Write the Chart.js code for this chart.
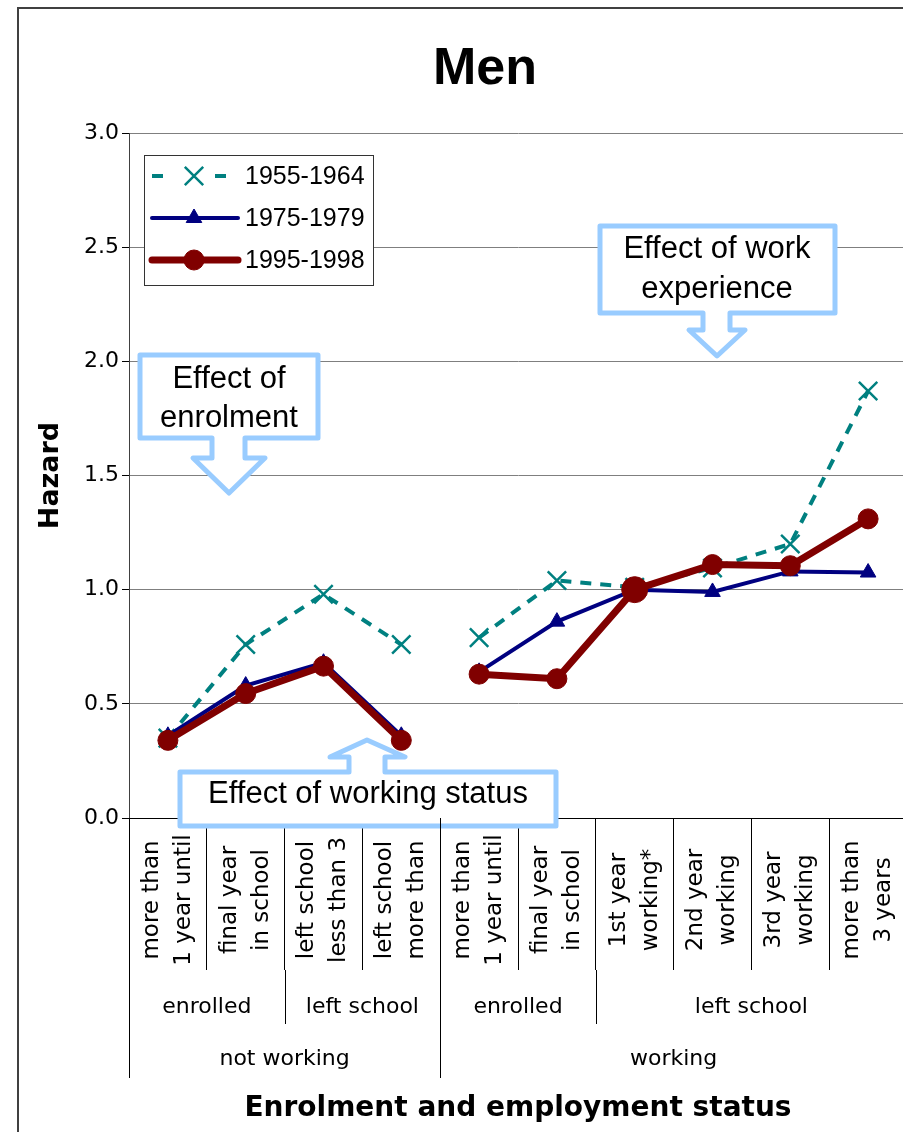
<!DOCTYPE html>
<html>
<head>
<meta charset="utf-8">
<script src="https://cdn.jsdelivr.net/npm/chart.js@4.4.0/dist/chart.umd.min.js"></script>
<style>
html, body { margin: 0; padding: 0; background: #fff; overflow: hidden; }
#wrap { width: 903px; height: 1132px; overflow: hidden; position: relative; }
#menChart { position: absolute; left: 0; top: 0; }
</style>
</head>
<body>
<div id="wrap"><canvas id="menChart" width="970" height="1132"></canvas></div>
<script>
// categories (two lines each, shown rotated under the axis)
var categories = [
    ["more than", "1 year until"],
    ["final year", "in school"],
    ["left school", "less than 3"],
    ["left school", "more than"],
    ["more than", "1 year until"],
    ["final year", "in school"],
    ["1st year", "working*"],
    ["2nd year", "working"],
    ["3rd year", "working"],
    ["more than", "3 years"]
];
var schoolLabels = ["enrolled", "left school", "enrolled", "left school"];
var schoolSpans = [[0, 1], [2, 3], [4, 5], [6, 9]];
var workLabels = ["not working", "working"];
var workSpans = [[0, 3], [4, 9]];

var seriesNames = ["1955-1964", "1975-1979", "1995-1998"];
var hazard1955 = [0.35, 0.76, 0.98, 0.76, 0.79, 1.04, 1.01, 1.095, 1.20, 1.87];
var hazard1975 = [0.36, 0.58, 0.68, 0.36, 0.64, 0.86, 1.00, 0.99, 1.08, 1.075];
var hazard1995 = [0.34, 0.545, 0.665, 0.34, 0.63, 0.61, 1.00, 1.11, 1.105, 1.31];

var yMin = 0, yMax = 3, yStep = 0.5;

var TEAL = '#008080', NAVY = '#000080', MAROON = '#800000', CALLOUT = '#99ccff';

// no line between "not working" and "working" halves
function gapAware(color) {
    return function (ctx) {
        return ctx.p0DataIndex === 3 ? 'rgba(0,0,0,0)' : color;
    };
}

function drawCallout(ctx, pts, lines, tx, ty) {
    ctx.save();
    ctx.beginPath();
    ctx.moveTo(pts[0][0], pts[0][1]);
    for (var i = 1; i < pts.length; i++) ctx.lineTo(pts[i][0], pts[i][1]);
    ctx.closePath();
    ctx.fillStyle = '#fff';
    ctx.fill();
    ctx.lineWidth = 5;
    ctx.lineJoin = 'round';
    ctx.strokeStyle = CALLOUT;
    ctx.stroke();
    ctx.fillStyle = '#000';
    ctx.font = '31px "Liberation Sans", Arial, sans-serif';
    ctx.textAlign = 'center';
    ctx.textBaseline = 'middle';
    lines.forEach(function (t, j) { ctx.fillText(t, tx, ty[j]); });
    ctx.restore();
}

var decorations = {
    id: 'decorations',
    beforeDraw: function (chart) {
        var ctx = chart.ctx;
        ctx.save();
        ctx.strokeStyle = '#404040';
        ctx.lineWidth = 2;
        ctx.strokeRect(18, 8, chart.width + 20, chart.height + 20);
        // chart title, centred on the whole frame
        ctx.fillStyle = '#000';
        ctx.font = 'bold 52px "Liberation Sans", Arial, sans-serif';
        ctx.textAlign = 'center';
        ctx.textBaseline = 'middle';
        ctx.fillText('Men', 485, 70);
        ctx.restore();
    },
    afterDatasetsDraw: function (chart) {
        var ctx = chart.ctx;
        // callouts
        drawCallout(ctx, [[140, 355], [318, 355], [318, 438], [245, 438], [245, 458], [265, 458], [229, 493],
            [193, 458], [212, 458], [212, 438], [140, 438]], ["Effect of", "enrolment"], 229, [379, 418]);
        drawCallout(ctx, [[600, 226], [835, 226], [835, 313], [730, 313], [730, 330], [745, 330], [717, 356],
            [689, 330], [703, 330], [703, 313], [600, 313]], ["Effect of work", "experience"], 717, [249, 289]);
        drawCallout(ctx, [[180, 772], [349, 772], [349, 757], [330, 757], [367, 740], [405, 757], [385, 757],
            [385, 772], [556, 772], [556, 826], [180, 826]], ["Effect of working status"], 368, [794]);

        // legend
        var ds = chart.data.datasets;
        var markerSize = [13, 9, 10];
        ctx.save();
        ctx.fillStyle = '#fff';
        ctx.fillRect(144, 155, 229, 130);
        ctx.strokeStyle = '#333';
        ctx.lineWidth = 1;
        ctx.strokeRect(144.5, 155.5, 229, 130);
        var rows = [176, 218, 260];
        ds.forEach(function (d, i) {
            var y = rows[i];
            ctx.save();
            ctx.strokeStyle = d.borderColor;
            ctx.lineWidth = d.borderWidth;
            ctx.lineCap = i === 0 ? 'butt' : 'round';
            if (i === 0) ctx.setLineDash([11, 52]);
            ctx.beginPath();
            ctx.moveTo(152, y);
            ctx.lineTo(238, y);
            ctx.stroke();
            ctx.restore();
            ctx.save();
            ctx.strokeStyle = d.pointBorderColor;
            ctx.fillStyle = d.pointBackgroundColor || d.borderColor;
            ctx.lineWidth = d.pointBorderWidth;
            Chart.helpers.drawPoint(ctx, {
                pointStyle: d.pointStyle, radius: markerSize[i],
                borderWidth: d.pointBorderWidth, rotation: 0
            }, 194, y);
            ctx.restore();
            ctx.fillStyle = '#000';
            ctx.font = '25px "Liberation Sans", Arial, sans-serif';
            ctx.textAlign = 'left';
            ctx.textBaseline = 'middle';
            ctx.fillText(d.label, 245, y + 1);
        });
        ctx.restore();
    },
    afterDraw: function (chart) {
        var ctx = chart.ctx, x = chart.scales.x;
        var step = (x.right - x.left) / categories.length;
        var edge = function (i) { return x.left + i * step; };

        // rotated category labels
        ctx.save();
        ctx.beginPath();
        ctx.rect(x.left, x.top + 1, x.right - x.left, 151);
        ctx.clip();
        ctx.fillStyle = '#000';
        ctx.font = '23px "DejaVu Sans", Verdana, sans-serif';
        ctx.textAlign = 'center';
        ctx.textBaseline = 'middle';
        categories.forEach(function (lines, i) {
            ctx.save();
            ctx.translate(x.getPixelForValue(i), 900);
            ctx.rotate(-Math.PI / 2);
            lines.forEach(function (t, j) {
                ctx.fillText(t, 0, (j - (lines.length - 1) / 2) * 32);
            });
            ctx.restore();
        });
        ctx.restore();

        ctx.save();
        ctx.strokeStyle = '#000';
        ctx.lineWidth = 1;
        ctx.fillStyle = '#000';
        ctx.font = '22px "DejaVu Sans", Verdana, sans-serif';
        ctx.textAlign = 'center';
        ctx.textBaseline = 'middle';
        // school level
        schoolSpans.forEach(function (s, i) {
            ctx.fillText(schoolLabels[i], (edge(s[0]) + edge(s[1] + 1)) / 2, 1007);
            if (i > 0 && schoolSpans[i][0] !== workSpans[1][0]) {
                var px = Math.round(edge(s[0])) + 0.5;
                ctx.beginPath(); ctx.moveTo(px, 970); ctx.lineTo(px, 1024); ctx.stroke();
            }
        });
        // work level
        workSpans.forEach(function (s, i) {
            ctx.fillText(workLabels[i], (edge(s[0]) + edge(s[1] + 1)) / 2, 1059);
            var px = Math.round(edge(s[0])) + 0.5;
            ctx.beginPath(); ctx.moveTo(px, x.top); ctx.lineTo(px, 1078); ctx.stroke();
        });
        var rx = Math.round(x.right) + 0.5;
        ctx.beginPath(); ctx.moveTo(rx, x.top); ctx.lineTo(rx, 1078); ctx.stroke();
        ctx.restore();
    }
};

var ctx = document.getElementById('menChart');
var menChart = new Chart(ctx, {
    type: 'line',
    data: {
        labels: categories,
        datasets: [{
            label: seriesNames[0],
            data: hazard1955,
            borderColor: TEAL,
            backgroundColor: TEAL,
            borderWidth: 4,
            borderDash: [11, 9],
            segment: { borderColor: gapAware(TEAL) },
            pointStyle: 'crossRot',
            pointRadius: 13,
            pointBorderWidth: 2.5,
            pointBorderColor: TEAL,
            order: 3,
            fill: false
        }, {
            label: seriesNames[1],
            data: hazard1975,
            borderColor: NAVY,
            backgroundColor: NAVY,
            borderWidth: 4,
            segment: { borderColor: gapAware(NAVY) },
            pointStyle: 'triangle',
            pointRadius: 9,
            pointBorderWidth: 1,
            pointBackgroundColor: NAVY,
            pointBorderColor: NAVY,
            order: 2,
            fill: false
        }, {
            label: seriesNames[2],
            data: hazard1995,
            borderColor: MAROON,
            backgroundColor: MAROON,
            borderWidth: 7,
            borderJoinStyle: 'round',
            borderCapStyle: 'round',
            segment: { borderColor: gapAware(MAROON) },
            pointStyle: 'circle',
            pointRadius: function (c) { return c.dataIndex === 6 ? 13 : 10; },
            pointBorderWidth: 1,
            pointBackgroundColor: MAROON,
            pointBorderColor: MAROON,
            order: 1,
            fill: false
        }]
    },
    options: {
        responsive: false,
        animation: { duration: 0 },
        layout: { padding: { left: 0, right: 63, top: 133, bottom: 0 } },
        plugins: {
            legend: { display: false },
            tooltip: { enabled: false },
            title: { display: false }
        },
        scales: {
            x: {
                type: 'category',
                offset: true,
                afterFit: function (s) { s.height = 314; },
                ticks: { display: false },
                grid: {
                    offset: true,
                    drawOnChartArea: false,
                    drawTicks: true,
                    tickLength: 152,
                    color: '#000',
                    tickColor: '#000'
                },
                border: { display: true, color: '#000', width: 1 },
                title: {
                    display: true,
                    text: 'Enrolment and employment status',
                    color: '#000',
                    font: { family: '"DejaVu Sans", Verdana, sans-serif', size: 28, weight: 'bold' },
                    padding: { top: 0, bottom: 6 }
                }
            },
            y: {
                min: yMin,
                max: yMax,
                afterFit: function (s) { s.width = 129; },
                ticks: {
                    stepSize: yStep,
                    color: '#000',
                    padding: 3,
                    font: { family: '"DejaVu Sans", Verdana, sans-serif', size: 22 },
                    callback: function (v) { return Number(v).toFixed(1); }
                },
                grid: {
                    color: '#7f7f7f',
                    lineWidth: 1,
                    drawTicks: true,
                    tickLength: 7,
                    tickColor: '#000'
                },
                border: { display: true, color: '#404040', width: 1 },
                title: {
                    display: true,
                    text: 'Hazard',
                    color: '#000',
                    font: { family: '"DejaVu Sans", Verdana, sans-serif', size: 27, weight: 'bold' },
                    padding: { top: 35, bottom: 0 }
                }
            }
        }
    },
    plugins: [decorations]
});
</script>
</body>
</html>
